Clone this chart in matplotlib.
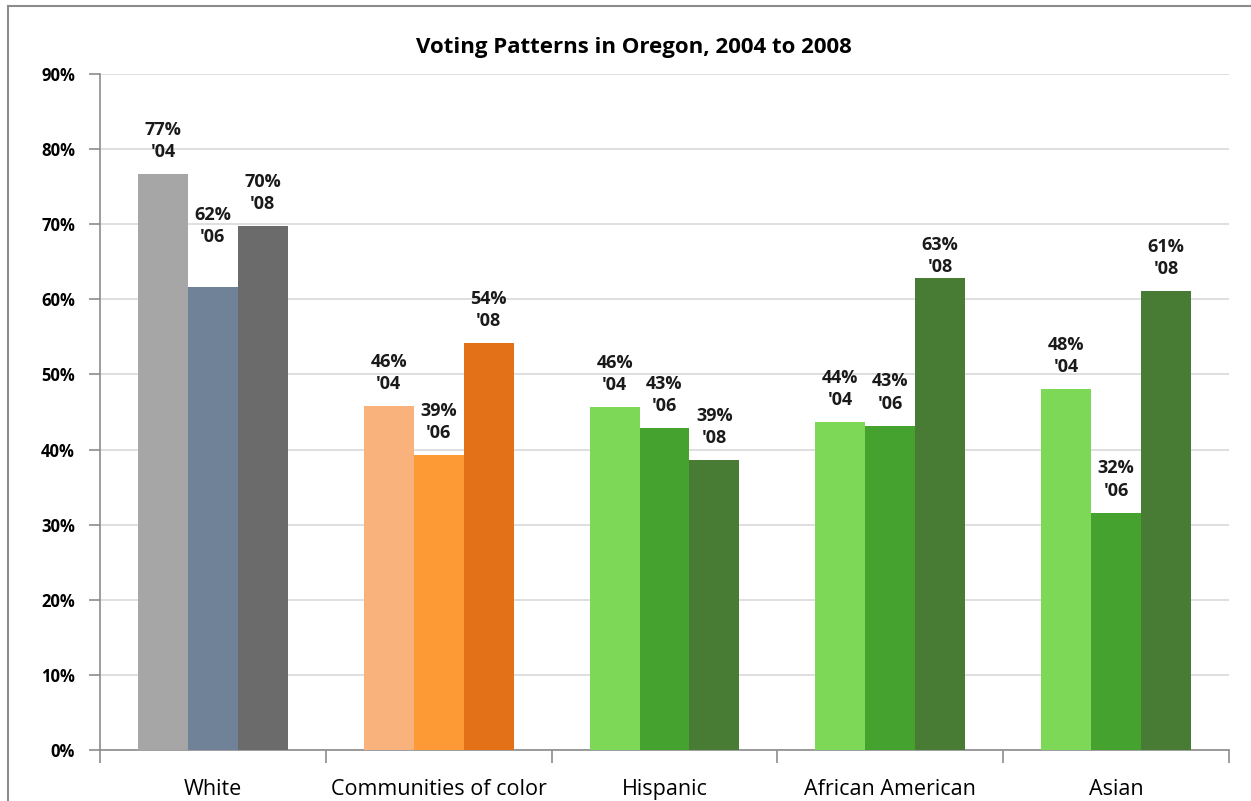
import numpy as np
import matplotlib.pyplot as plt
from matplotlib.patches import Rectangle

plt.rcParams['font.family'] = ['Open Sans', 'DejaVu Sans']

# data
groups = ['White', 'Communities of color', 'Hispanic', 'African American', 'Asian']
years = ['04', '06', '08']
v04 = [76.7, 45.8, 45.6, 43.7, 48.1]
v06 = [61.6, 39.3, 42.9, 43.2, 31.6]
v08 = [69.8, 54.2, 38.6, 62.8, 61.1]

colors = [
    ['#a6a6a6', '#6f8297', '#6b6b6b'],
    ['#f9b27b', '#fe9a36', '#e27118'],
    ['#7ed858', '#45a22e', '#487c35'],
    ['#7ed858', '#45a22e', '#487c35'],
    ['#7ed858', '#45a22e', '#487c35'],
]

# extra lift (pixels) for a couple of labels that Excel nudged
nudge = {(0, 1): 28, (3, 2): -11}

fig = plt.figure(figsize=(12.51, 8.01), dpi=100)
ax = fig.add_axes([100 / 1251, 1 - 750 / 801, 1129 / 1251, 676 / 801])

# outer chart border
fig.patches.append(Rectangle((8 / 1251, -0.1), 1.2, 1 - 6 / 801 + 0.1,
                             transform=fig.transFigure, fill=False,
                             edgecolor='#8c8c8c', lw=1.5, clip_on=False))

x = np.arange(len(groups))
w = 0.221
vals = [v04, v06, v08]
for j in range(3):
    for i in range(len(groups)):
        v = vals[j][i]
        ax.bar(x[i] + (j - 1) * w, v, w, color=colors[i][j], zorder=3)
        lift = 13 + nudge.get((i, j), 0)
        ax.annotate("%d%%\n'%s" % (round(v), years[j]),
                    xy=(x[i] + (j - 1) * w, v), xytext=(0, lift * 0.72),
                    textcoords='offset points', ha='center', va='bottom',
                    fontsize=13, fontweight='bold', linespacing=1.3,
                    color='#1a1a1a', zorder=4)

ax.set_xlim(-0.5, len(groups) - 0.5)
ax.set_ylim(0, 90)
ax.set_yticks(np.arange(0, 91, 10))
ax.set_yticklabels(['%d%%' % t for t in range(0, 91, 10)],
                   fontsize=12, fontweight='bold')
ax.yaxis.grid(True, color='#d9d9d9', lw=1.2, zorder=0)

ax.set_xticks(np.arange(-0.5, len(groups)))
ax.set_xticklabels([])
ax.set_xticks(x, minor=True)
ax.set_xticklabels(groups, minor=True, fontsize=15.5)
ax.tick_params(axis='x', which='major', length=9, color='#8c8c8c', width=1.2)
ax.tick_params(axis='x', which='minor', length=0, pad=21)
ax.tick_params(axis='y', length=8, color='#8c8c8c', width=1.2, pad=10)

for s in ['top', 'right']:
    ax.spines[s].set_visible(False)
for s in ['left', 'bottom']:
    ax.spines[s].set_color('#8c8c8c')
    ax.spines[s].set_linewidth(1.2)

fig.text(634 / 1251, 1 - 48 / 801, 'Voting Patterns in Oregon, 2004 to 2008',
         ha='center', va='center', fontsize=16, fontweight='bold')

fig.savefig('out.png', dpi=100)
